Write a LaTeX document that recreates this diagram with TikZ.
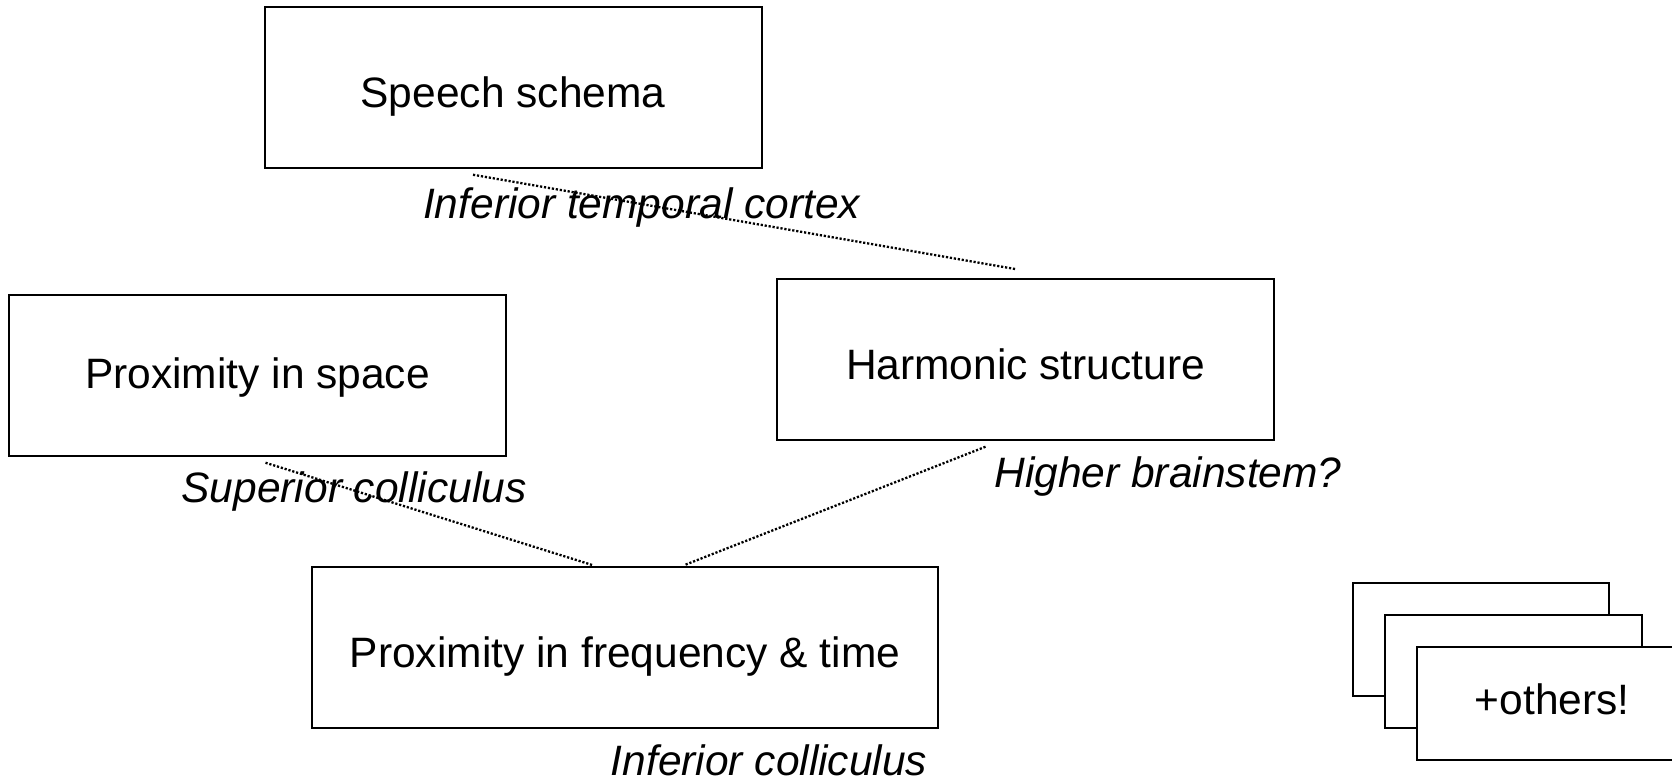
\documentclass[tikz,border=0pt]{standalone}
\usepackage{fontspec}
\setmainfont{Liberation Sans}
\usetikzlibrary{calc}

\tikzset{
  boxbase/.style={draw=black, line width=2pt, fill=white, inner sep=0pt,
    font=\fontsize{42.5pt}{50pt}\selectfont, text depth=0pt, text height=40pt},
  bigbox/.style={boxbase, minimum width=497pt, minimum height=160.5pt},
  widebox/.style={boxbase, minimum width=626pt, minimum height=160.5pt},
  smallbox/.style={boxbase, minimum width=256.6pt, minimum height=112.7pt},
  area/.style={anchor=base, inner sep=0pt,
    font=\fontsize{42.5pt}{50pt}\selectfont\itshape},
  link/.style={line width=2.3pt, dash pattern=on 2.2pt off 1.8pt}
}

\begin{document}
\begin{tikzpicture}[x=1pt, y=-1pt]
  \useasboundingbox (0,0) rectangle (1672,781);
  \clip (0,0) rectangle (1672,781);

  % processing stages
  \node[bigbox]  (ss) at (513,87.5)     {Speech schema};
  \node[bigbox, text height=26pt] (ps) at (257.5,375.5) {Proximity in space};
  \node[bigbox]  (hs) at (1025.5,359.5) {Harmonic structure};
  \node[widebox] (pf) at (625,647.5)    {Proximity in frequency \& time};

  % stacked cards for further cues
  \node[smallbox] (o1) at (1481,639.7) {};
  \node[smallbox] (o2) at (1513.2,671.7) {};
  \node[smallbox, text height=22pt] (o3) at (1545.3,703.8) {\hspace*{14pt}+others!};

  % dotted links between stages
  \draw[link] ($(ss.south)+(-40,6)$) -- ($(hs.north)+(-9,-9)$);
  \draw[link] ($(ps.south)+(8,6)$) -- ($(pf.north)+(-32,-1)$);
  \draw[link] ($(hs.south)+(-40,6)$) -- ($(pf.north)+(59,-1)$);

  % brain areas
  \node[area] (itc) at (641.6,218.5) {Inferior temporal cortex};
  \node[area] (sc)  at (354,502)     {Superior colliculus};
  \node[area] (hb)  at (1168,487)    {Higher brainstem?};
  \node[area] (ic)  at (769,775)     {Inferior colliculus};
\end{tikzpicture}
\end{document}
